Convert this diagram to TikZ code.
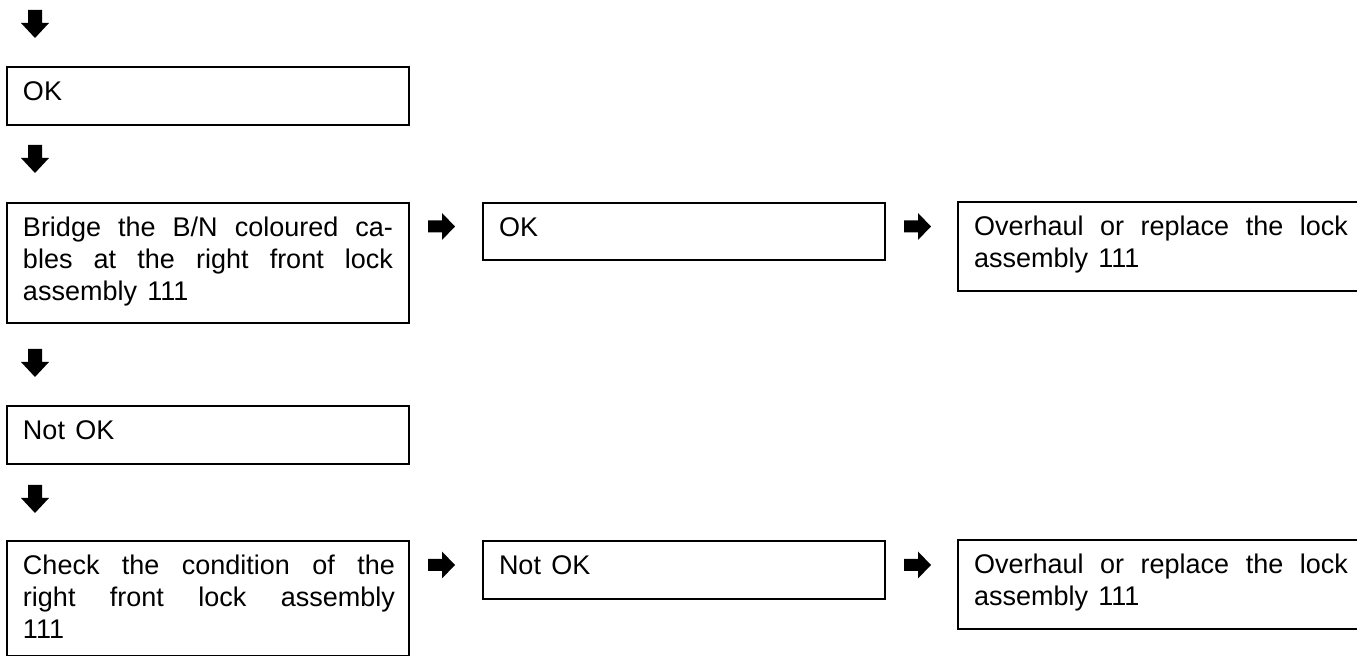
\documentclass[tikz,border=0pt]{standalone}
\usepackage{fontspec}
\newfontfamily\boxfont{Liberation Sans}
\newcommand{\sx}[1]{\hbox{\spaceskip=.38em plus .8em minus .1em\relax #1}}
\newcommand{\jline}[2][185pt]{\sx{\makebox[#1][s]{#2}}}
\begin{document}
\begin{tikzpicture}[x=0.5pt,y=-0.5pt,
  font={\boxfont\fontsize{13.5pt}{16pt}\selectfont},
  box/.style={draw, line width=1pt, anchor=north west, inner xsep=8pt, inner ysep=0pt,
    text width=185pt, align=justify, text height=16.8pt, text depth=#1},
  rbox/.style={box=#1, text width=187pt},
  downarr/.pic={\fill (-7,0) -- (7,0) -- (7,13) -- (14,13) -- (0,28) -- (-14,13) -- (-7,13) -- cycle;},
  rightarr/.pic={\fill (0,-6) -- (14,-6) -- (14,-13.5) -- (27,0) -- (14,13.5) -- (14,6) -- (0,6) -- cycle;}]
\clip (0,0) rectangle (1357,656);
% left column
\pic (d1) at (35,10) {downarr};
\node[box=12.2pt] (ok1) at (6,66) {\sx{OK}};
\pic (d2) at (35,145) {downarr};
\node[box=43.2pt] (bridge) at (6,202) {\jline{Bridge the B/N coloured ca-}\\\jline{bles at the right front lock}\\\sx{assembly 111}};
\pic (d3) at (35,349) {downarr};
\node[box=12.2pt] (nok1) at (6,405) {\sx{Not OK}};
\pic (d4) at (35,485) {downarr};
\node[box=40.7pt] (check) at (6,540) {\jline[186pt]{Check the condition of the}\\\jline[186pt]{right front lock assembly}\\\sx{111}};
% row 1
\pic (r1) at (428,226.5) {rightarr};
\node[box=11.7pt] (ok2) at (482,202) {\sx{OK}};
\pic (r2) at (904,226.5) {rightarr};
\node[rbox=27.7pt] (ovh1) at (957,201) {\jline[187pt]{Overhaul or replace the lock}\\\sx{assembly 111}};
% row 2
\pic (r3) at (428,565) {rightarr};
\node[box=12.2pt] (nok2) at (482,540) {\sx{Not OK}};
\pic (r4) at (904,565) {rightarr};
\node[rbox=27.7pt] (ovh2) at (957,539) {\jline[187pt]{Overhaul or replace the lock}\\\sx{assembly 111}};
\end{tikzpicture}
\end{document}
